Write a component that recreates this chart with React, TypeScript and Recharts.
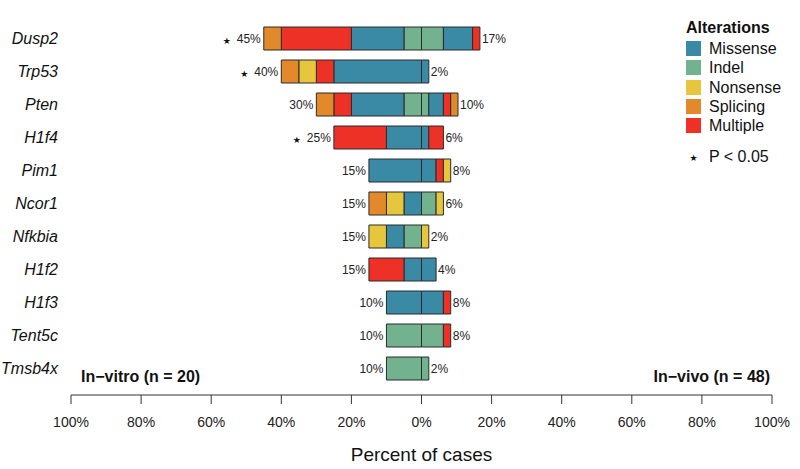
import React from "react";
import { BarChart, Bar, XAxis, YAxis, LabelList } from "recharts";

const genes = ["Dusp2", "Trp53", "Pten", "H1f4", "Pim1", "Ncor1", "Nfkbia", "H1f2", "H1f3", "Tent5c", "Tmsb4x"];
const significant = ["Dusp2", "Trp53", "H1f4"];

// stack order from the centre line outwards
const alterations = ["Indel", "Missense", "Multiple", "Nonsense", "Splicing"];

const VITRO_N = 20;
const VIVO_N = 48;

// number of cases per gene, in-vitro
const vitroIndel = [1, 0, 1, 0, 0, 0, 1, 0, 0, 2, 2];
const vitroMissense = [3, 5, 3, 2, 3, 1, 1, 1, 2, 0, 0];
const vitroMultiple = [4, 1, 1, 3, 0, 0, 0, 2, 0, 0, 0];
const vitroNonsense = [0, 1, 0, 0, 0, 1, 1, 0, 0, 0, 0];
const vitroSplicing = [1, 1, 1, 0, 0, 1, 0, 0, 0, 0, 0];

// number of cases per gene, in-vivo
const vivoIndel = [3, 0, 1, 0, 0, 2, 0, 0, 0, 3, 1];
const vivoMissense = [4, 1, 2, 1, 2, 0, 0, 2, 3, 0, 0];
const vivoMultiple = [1, 0, 1, 2, 1, 0, 0, 0, 1, 1, 0];
const vivoNonsense = [0, 0, 0, 0, 1, 1, 1, 0, 0, 0, 0];
const vivoSplicing = [0, 0, 1, 0, 0, 0, 0, 0, 0, 0, 0];

const xTicks = [-100, -80, -60, -40, -20, 0, 20, 40, 60, 80, 100];

const COLORS: Record<string, string> = {
  Missense: "#3A8AA5",
  Indel: "#73B28F",
  Nonsense: "#E5C63C",
  Splicing: "#E2892C",
  Multiple: "#EE3127",
};
const legendOrder = ["Missense", "Indel", "Nonsense", "Splicing", "Multiple"];

const vitroCounts: Record<string, number[]> = {
  Indel: vitroIndel,
  Missense: vitroMissense,
  Multiple: vitroMultiple,
  Nonsense: vitroNonsense,
  Splicing: vitroSplicing,
};
const vivoCounts: Record<string, number[]> = {
  Indel: vivoIndel,
  Missense: vivoMissense,
  Multiple: vivoMultiple,
  Nonsense: vivoNonsense,
  Splicing: vivoSplicing,
};

const data = genes.map((gene, i) => {
  const row: Record<string, any> = { gene };
  let vt = 0;
  let vv = 0;
  alterations.forEach((a) => {
    row["vitro_" + a] = -(vitroCounts[a][i] / VITRO_N) * 100;
    row["vivo_" + a] = (vivoCounts[a][i] / VIVO_N) * 100;
    vt += vitroCounts[a][i];
    vv += vivoCounts[a][i];
  });
  row.vitroTotal = -(vt / VITRO_N) * 100;
  row.vivoTotal = (vv / VIVO_N) * 100;
  return row;
});

const FONT = "'Liberation Sans', Arial, Helvetica, sans-serif";
const STAR_FONT = "'DejaVu Sans', sans-serif";

const GeneTick = (props: any) => {
  const { y, payload } = props;
  return (
    <text x={58} y={y} textAnchor="end" dominantBaseline="central" fontSize={16} fontStyle="italic" fill="#111" fontFamily={FONT}>
      {payload.value}
    </text>
  );
};

const VitroLabel = (props: any) => {
  const { x, y, width, height, value } = props;
  const row = data.find((d) => d.gene === value);
  if (!row) return null;
  const left = Math.min(x, x + width);
  const cy = y + height / 2;
  return (
    <g>
      <text x={left - 3} y={cy} textAnchor="end" dominantBaseline="central" fontSize={12} fill="#222" fontFamily={FONT}>
        {Math.round(Math.abs(row.vitroTotal)) + "%"}
      </text>
      {significant.includes(value) && (
        <text x={left - 37} y={cy + 2} textAnchor="middle" dominantBaseline="central" fontSize={9} fill="#111" fontFamily={STAR_FONT}>
          ★
        </text>
      )}
    </g>
  );
};

const VivoLabel = (props: any) => {
  const { x, y, width, height, value } = props;
  const row = data.find((d) => d.gene === value);
  if (!row) return null;
  const right = Math.max(x, x + width);
  return (
    <text x={right + 2} y={y + height / 2} textAnchor="start" dominantBaseline="central" fontSize={12} fill="#222" fontFamily={FONT}>
      {Math.round(row.vivoTotal) + "%"}
    </text>
  );
};

export default function App() {
  return (
    <div style={{ position: "absolute", left: 0, top: 0, width: 800, height: 469, fontFamily: FONT, background: "#fff" }}>
      <BarChart
        width={800}
        height={469}
        data={data}
        layout="vertical"
        stackOffset="sign"
        barCategoryGap={5}
        margin={{ top: 22, right: 28, bottom: 0, left: 0 }}
      >
        <XAxis
          type="number"
          domain={[-100, 100]}
          ticks={xTicks}
          tickFormatter={(v: number) => Math.abs(v) + "%"}
          stroke="#333"
          tickSize={9}
          tickMargin={13}
          height={74}
          tick={{ fontSize: 14, fill: "#222", fontFamily: FONT }}
          label={{ value: "Percent of cases", position: "insideBottom", offset: 8, fontSize: 19, fill: "#111", fontFamily: FONT }}
        />
        <YAxis
          type="category"
          dataKey="gene"
          width={71}
          axisLine={false}
          tickLine={false}
          padding={{ top: 0, bottom: 10 }}
          tick={<GeneTick />}
        />
        <YAxis yAxisId="lbl" type="category" dataKey="gene" hide padding={{ top: 0, bottom: 10 }} />
        {alterations.map((a) => (
          <Bar
            key={"vitro_" + a}
            dataKey={"vitro_" + a}
            stackId="a"
            fill={COLORS[a]}
            stroke="#2b2b2b"
            strokeWidth={1}
            isAnimationActive={false}
          />
        ))}
        {alterations.map((a) => (
          <Bar
            key={"vivo_" + a}
            dataKey={"vivo_" + a}
            stackId="a"
            fill={COLORS[a]}
            stroke="#2b2b2b"
            strokeWidth={1}
            isAnimationActive={false}
          />
        ))}
        <Bar yAxisId="lbl" dataKey="vitroTotal" stackId="lbl" fill="transparent" stroke="none" isAnimationActive={false}>
          <LabelList dataKey="gene" content={<VitroLabel />} />
        </Bar>
        <Bar yAxisId="lbl" dataKey="vivoTotal" stackId="lbl" fill="transparent" stroke="none" isAnimationActive={false}>
          <LabelList dataKey="gene" content={<VivoLabel />} />
        </Bar>
      </BarChart>

      <div style={{ position: "absolute", left: 81, top: 367, fontSize: 16, fontWeight: "bold", color: "#111", lineHeight: "20px" }}>
        In−vitro (n = 20)
      </div>
      <div style={{ position: "absolute", right: 30, top: 367, fontSize: 16, fontWeight: "bold", color: "#111", lineHeight: "20px" }}>
        In−vivo (n = 48)
      </div>

      <div style={{ position: "absolute", left: 686, top: 18, color: "#111" }}>
        <div style={{ fontSize: 16, fontWeight: "bold", lineHeight: "20px", marginBottom: 1 }}>Alterations</div>
        {legendOrder.map((a) => (
          <div key={a} style={{ display: "flex", alignItems: "center", height: 19.3 }}>
            <div style={{ width: 15, height: 15, background: COLORS[a], marginRight: 8 }} />
            <span style={{ fontSize: 16, lineHeight: "19px" }}>{a}</span>
          </div>
        ))}
        <div style={{ display: "flex", alignItems: "center", marginTop: 12 }}>
          <span style={{ width: 15, textAlign: "center", fontSize: 9, marginRight: 8, fontFamily: STAR_FONT, position: "relative", top: 1 }}>★</span>
          <span style={{ fontSize: 16, lineHeight: "19px" }}>P &lt; 0.05</span>
        </div>
      </div>
    </div>
  );
}
